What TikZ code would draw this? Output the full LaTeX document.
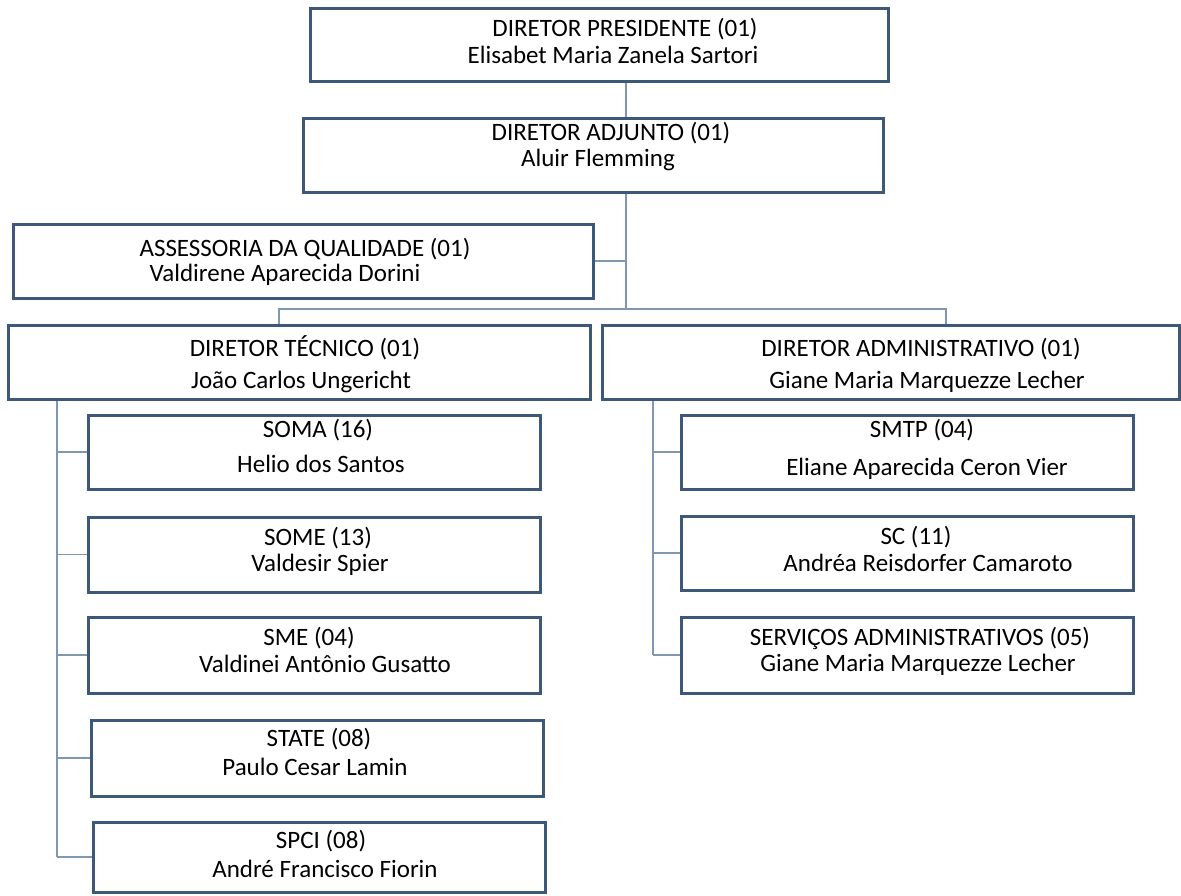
\documentclass[tikz,border=0pt]{standalone}
\usepackage{fontspec}
\setmainfont{Carlito}
\definecolor{boxline}{HTML}{3D5878}
\definecolor{conline}{HTML}{8097B0}
\tikzset{
  obox/.style={draw=boxline, line width=3pt, fill=white, inner sep=0pt, rectangle},
  txt/.style={inner sep=0pt, anchor=base, yshift=-8pt, text=black, font=\fontsize{25}{30}\selectfont},
  con/.style={draw=conline, line width=1.2pt},
}
\newcommand\orgbox[5]{\node[obox, minimum width={#4-#2}, minimum height={#5-#3}] (#1) at ({(#2+#4)/2},{(#3+#5)/2}) {};}
\newcommand\orgtext[7]{%
  \node[txt] (#1a) at (#2,#3) {#4};
  \node[txt] (#1b) at (#5,#6) {#7};}
\begin{document}
\begin{tikzpicture}[x=1pt,y=-1pt]
\useasboundingbox (0,0) rectangle (1181,895);
% coordinates for connector spines
\coordinate (spine) at (626,309);
\coordinate (busL) at (279,309);
\coordinate (busR) at (946,309);
\coordinate (lspine) at (57,400);
\coordinate (rspine) at (653,400);
% boxes
\orgbox{pres}{310}{8}{888}{81}
\orgbox{adj}{303}{118}{883}{192}
\orgbox{ass}{13}{224}{593}{298}
\orgbox{tec}{8}{325}{590}{399}
\orgbox{adm}{602}{325}{1179}{399}
\orgbox{soma}{88}{415}{540}{489}
\orgbox{some}{88}{517}{540}{592}
\orgbox{sme}{88}{617}{540}{693}
\orgbox{state}{91}{720}{543}{796}
\orgbox{spci}{93}{822}{545}{892}
\orgbox{smtp}{681}{415}{1133}{489}
\orgbox{sc}{681}{516}{1133}{590}
\orgbox{serv}{681}{617}{1133}{693}
% connectors
\draw[con] (pres.south -| spine) -- (adj.north -| spine);
\draw[con] (adj.south -| spine) -- (spine);
\draw[con] (ass.east) -- (ass.east -| spine);
\draw[con] (tec.north -| busL) -- (busL) -- (busR) -- (adm.north -| busR);
\draw[con] (tec.south -| lspine) -- (spci.west -| lspine);
\foreach \c in {soma,some,sme,state,spci} \draw[con] (\c.west -| lspine) -- (\c.west);
\draw[con] (adm.south -| rspine) -- (serv.west -| rspine);
\foreach \c in {smtp,sc,serv} \draw[con] (\c.west -| rspine) -- (\c.west);
% texts
\orgtext{presT}{625}{28}{DIRETOR PRESIDENTE (01)}{613}{55}{Elisabet Maria Zanela Sartori}
\orgtext{adjT}{611}{132}{DIRETOR ADJUNTO (01)}{598}{158}{Aluir Flemming}
\orgtext{assT}{305}{248}{ASSESSORIA DA QUALIDADE (01)}{285}{273}{Valdirene Aparecida Dorini}
\orgtext{tecT}{305}{348}{DIRETOR TÉCNICO (01)}{301}{380}{João Carlos Ungericht}
\orgtext{admT}{921}{348}{DIRETOR ADMINISTRATIVO (01)}{927}{380}{Giane Maria Marquezze Lecher}
\orgtext{somaT}{318}{429}{SOMA (16)}{321}{464}{Helio dos Santos}
\orgtext{someT}{318}{537}{SOME (13)}{320}{563}{Valdesir Spier}
\orgtext{smeT}{309}{637}{SME (04)}{325}{664}{Valdinei Antônio Gusatto}
\orgtext{stateT}{319}{738}{STATE (08)}{315}{767}{Paulo Cesar Lamin}
\orgtext{spciT}{321}{840}{SPCI (08)}{325}{869}{André Francisco Fiorin}
\orgtext{smtpT}{922}{429}{SMTP (04)}{927}{467}{Eliane Aparecida Ceron Vier}
\orgtext{scT}{916}{536}{SC (11)}{928}{563}{Andréa Reisdorfer Camaroto}
\orgtext{servT}{920}{637}{SERVIÇOS ADMINISTRATIVOS (05)}{918}{663}{Giane Maria Marquezze Lecher}
\end{tikzpicture}
\end{document}
